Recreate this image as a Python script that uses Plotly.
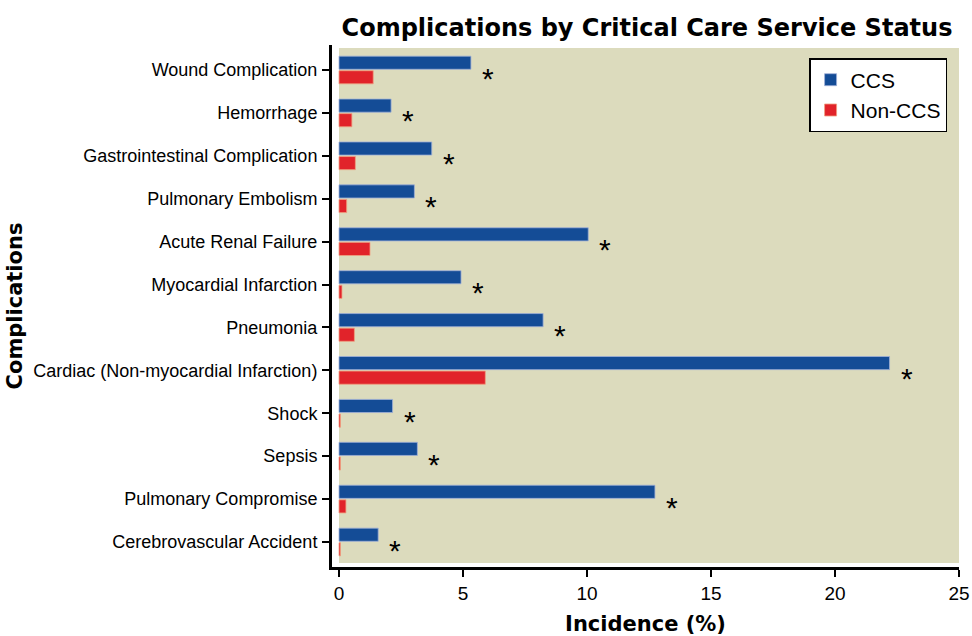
import plotly.graph_objects as go

categories = [
    "Wound Complication",
    "Hemorrhage",
    "Gastrointestinal Complication",
    "Pulmonary Embolism",
    "Acute Renal Failure",
    "Myocardial Infarction",
    "Pneumonia",
    "Cardiac (Non-myocardial Infarction)",
    "Shock",
    "Sepsis",
    "Pulmonary Compromise",
    "Cerebrovascular Accident",
]
ccs = [5.32, 2.10, 3.74, 3.04, 10.05, 4.92, 8.23, 22.2, 2.16, 3.16, 12.74, 1.58]
non_ccs = [1.38, 0.52, 0.66, 0.31, 1.25, 0.12, 0.62, 5.9, 0.06, 0.06, 0.28, 0.06]
x_ticks = [0, 5, 10, 15, 20, 25]

FONT = "Liberation Sans, Arial, Helvetica, sans-serif"
BOLD = "DejaVu Sans, Liberation Sans, sans-serif"
BLUE = "#144c96"
RED = "#e1232a"
BG = "#dcdbbd"

fig = go.Figure()
fig.add_trace(go.Bar(
    y=categories, x=ccs, orientation="h", name="CCS",
    marker=dict(color=BLUE, line=dict(color="#9fb0d8", width=0.8)),
))
fig.add_trace(go.Bar(
    y=categories, x=non_ccs, orientation="h", name="Non-CCS",
    marker=dict(color=RED, line=dict(color="#f0a080", width=0.8)),
))

# significance asterisks
for cat, v in zip(categories, ccs):
    fig.add_annotation(
        x=v, y=cat, xref="x", yref="y", text="*", showarrow=False,
        xanchor="center", yanchor="middle", xshift=17, yshift=-8,
        font=dict(family=FONT, size=30, color="black"),
    )

# plot background (inset from the axis lines)
fig.add_shape(
    type="rect", xref="x", yref="paper", x0=0, x1=25,
    y0=(567 - 563) / 522, y1=(567 - 48) / 522,
    fillcolor=BG, line=dict(width=0), layer="below",
)

fig.update_layout(
    width=972, height=636,
    margin=dict(l=332, r=13, t=45, b=69),
    paper_bgcolor="white", plot_bgcolor="white",
    barmode="group", bargap=0.32, bargroupgap=0.1,
    font=dict(family=FONT, color="black"),
    title=dict(
        text="<b>Complications by Critical Care Service Status</b>",
        x=647 / 972, xref="container", xanchor="center",
        y=1 - 28 / 636, yref="container", yanchor="middle",
        font=dict(family=BOLD, size=24, color="black"),
    ),
    legend=dict(
        x=0.981, y=0.975, xanchor="right", yanchor="top",
        bgcolor="white", bordercolor="black", borderwidth=1.5,
        font=dict(family=FONT, size=21, color="black"),
        tracegroupgap=4,
    ),
    xaxis=dict(
        range=[-7 / 24.8, 25], tickmode="array", tickvals=x_ticks,
        ticktext=[str(t) for t in x_ticks],
        showgrid=False, zeroline=False, automargin=False,
        showline=True, linecolor="black", linewidth=3,
        ticks="outside", ticklen=7, tickwidth=2, tickcolor="black",
        tickfont=dict(family=FONT, size=19, color="black"),
        title=dict(text="<b>Incidence (%)</b>", standoff=14,
                   font=dict(family=BOLD, size=21, color="black")),
    ),
    yaxis=dict(
        categoryorder="array", categoryarray=categories,
        range=[11 + 25 / 42.9, -25 / 42.9],
        showgrid=False, zeroline=False, automargin=False,
        showline=True, linecolor="black", linewidth=3,
        ticks="outside", ticklen=7, tickwidth=2, tickcolor="black",
        tickfont=dict(family=FONT, size=18, color="black"),
        ticklabelstandoff=1,
        title=dict(text="<b>Complications</b>", standoff=5,
                   font=dict(family=BOLD, size=21, color="black")),
    ),
)

fig.write_html(
    "out.html",
    config={"displayModeBar": False},
    post_script="document.body.style.margin='0';document.body.style.padding='0';",
)
